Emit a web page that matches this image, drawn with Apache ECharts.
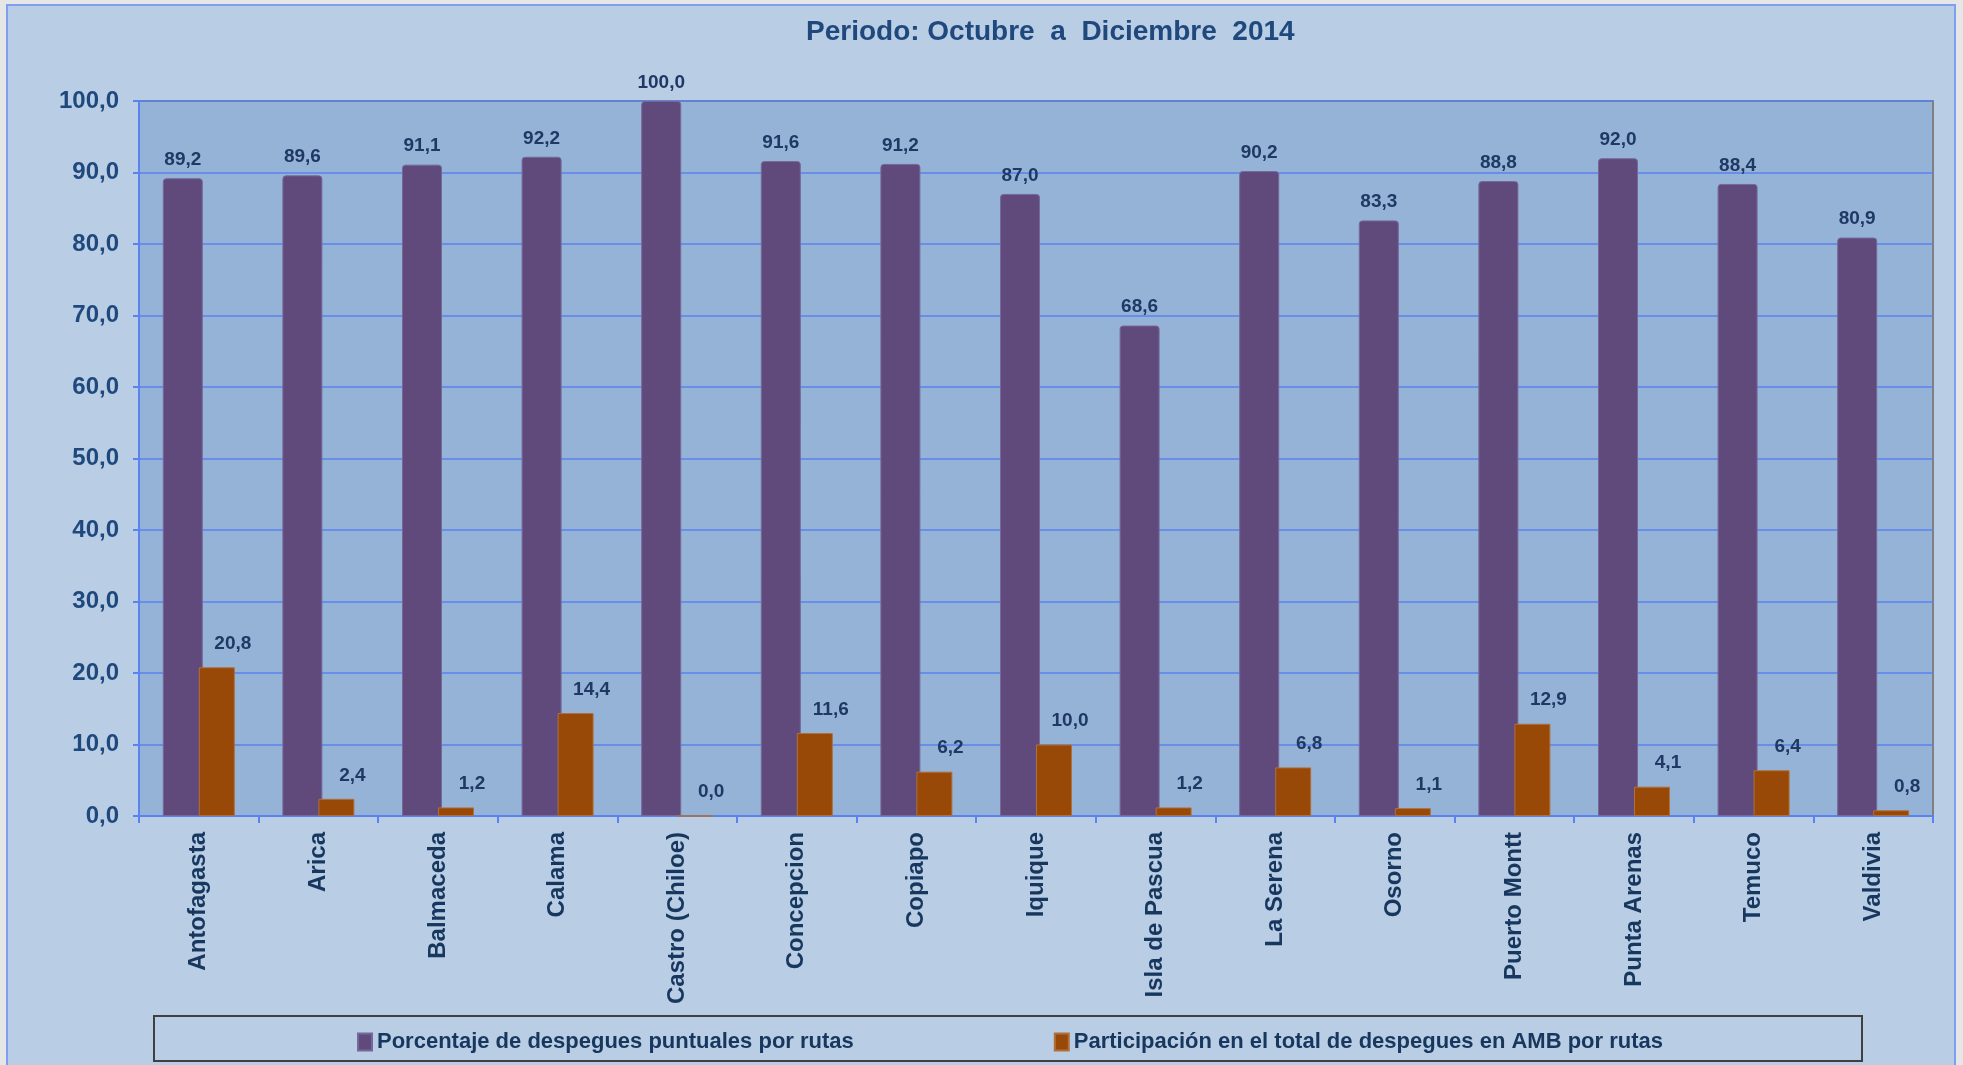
<!DOCTYPE html>
<html>
<head>
<meta charset="utf-8">
<script src="https://cdn.jsdelivr.net/npm/echarts@6/dist/echarts.min.js"></script>
<style>
  html, body { margin: 0; padding: 0; background: #e6e6e6; }
  #chart { width: 1963px; height: 1065px; }
</style>
</head>
<body>
<div id="chart"></div>
<script>
const categories = ['Antofagasta', 'Arica', 'Balmaceda', 'Calama', 'Castro (Chiloe)', 'Concepcion', 'Copiapo', 'Iquique', 'Isla de Pascua', 'La Serena', 'Osorno', 'Puerto Montt', 'Punta Arenas', 'Temuco', 'Valdivia']
const puntuales = [89.2, 89.6, 91.1, 92.2, 100.0, 91.6, 91.2, 87.0, 68.6, 90.2, 83.3, 88.8, 92.0, 88.4, 80.9]
const participacion = [20.8, 2.4, 1.2, 14.4, 0.0, 11.6, 6.2, 10.0, 1.2, 6.8, 1.1, 12.9, 4.1, 6.4, 0.8]
const seriesNames = ['Porcentaje de despegues puntuales por rutas', 'Participación en el total de despegues en AMB por rutas']
const titleText = 'Periodo: Octubre  a  Diciembre  2014'

const fmt = v => Number(v).toFixed(1).replace('.', ',')
const font = 'Liberation Sans, Arial, sans-serif'

const chart = echarts.init(document.getElementById('chart'))
chart.setOption({
  backgroundColor: '#e6e6e6',
  animation: false,
  textStyle: { fontFamily: font },
  graphic: [
    {
      type: 'rect', z: -10, silent: true,
      shape: { x: 7, y: 5, width: 1948, height: 1075 },
      style: { fill: '#b9cde5', stroke: '#7f9ff0', lineWidth: 2 }
    },
    {
      type: 'rect', z: -5, silent: true,
      shape: { x: 154, y: 1016, width: 1708, height: 45 },
      style: { fill: 'none', stroke: '#404040', lineWidth: 2 }
    }
  ],
  title: {
    text: titleText,
    left: 801,
    top: 13,
    textStyle: { fontFamily: font, fontSize: 28, fontWeight: 'bold', color: '#1f497d' }
  },
  legend: {
    left: 352,
    top: 1026,
    icon: 'rect',
    itemWidth: 14,
    itemHeight: 17,
    itemGap: 200,
    textStyle: { fontFamily: font, fontSize: 22, fontWeight: 'bold', color: '#17375e' },
    data: seriesNames
  },
  grid: {
    left: 139,
    top: 101,
    right: 30,
    bottom: 249,
    show: true,
    backgroundColor: '#95b3d7',
    borderColor: '#808080',
    borderWidth: 2
  },
  xAxis: {
    type: 'category',
    data: categories,
    axisLine: { lineStyle: { color: '#5a82f0', width: 2 } },
    axisTick: { show: true, length: 7, lineStyle: { color: '#5a82f0', width: 2 } },
    axisLabel: {
      rotate: 90,
      margin: 16,
      interval: 0,
      fontFamily: font,
      fontSize: 24,
      fontWeight: 'bold',
      color: '#17375e'
    }
  },
  yAxis: {
    type: 'value',
    min: 0,
    max: 100,
    interval: 10,
    axisLine: { show: true, lineStyle: { color: '#5a82f0', width: 2 } },
    axisTick: { show: true, length: 6, lineStyle: { color: '#5a82f0', width: 2 } },
    splitLine: { lineStyle: { color: '#5a82f0', width: 1.5 } },
    axisLabel: {
      margin: 20,
      fontFamily: font,
      fontSize: 24,
      fontWeight: 'bold',
      color: '#1f497d',
      formatter: fmt
    }
  },
  series: [
    {
      name: seriesNames[0],
      type: 'bar',
      barWidth: 40,
      barGap: '-10%',
      data: puntuales,
      itemStyle: {
        color: '#604a7b',
        borderColor: '#76689a',
        borderWidth: 1,
        borderRadius: [3, 3, 0, 0]
      },
      label: {
        show: true,
        position: 'top',
        distance: 9,
        fontFamily: font,
        fontSize: 19,
        fontWeight: 'bold',
        color: '#1f3864',
        formatter: p => fmt(p.value)
      }
    },
    {
      name: seriesNames[1],
      type: 'bar',
      barWidth: 36,
      data: participacion,
      itemStyle: {
        color: '#984807',
        borderColor: '#b0703a',
        borderWidth: 1
      },
      label: {
        show: true,
        position: 'top',
        distance: 7,
        offset: [16, -7],
        fontFamily: font,
        fontSize: 19,
        fontWeight: 'bold',
        color: '#1f3864',
        formatter: p => fmt(p.value)
      }
    }
  ]
})
window.addEventListener('resize', function () {
  chart.resize()
})
</script>
</body>
</html>
